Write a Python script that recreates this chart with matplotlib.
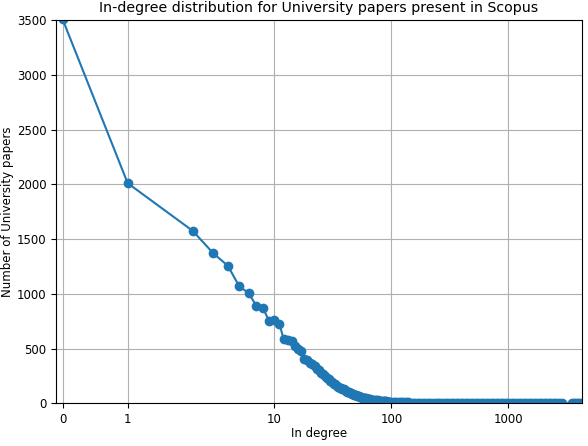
import matplotlib
matplotlib.use("Agg")
import matplotlib.pyplot as plt

# In-degree values (x) and number of papers with that in-degree (y)
degree_head = [0, 1, 2, 3, 4, 5, 6, 7, 8, 9, 10, 11, 12, 13, 14, 15, 16, 17, 18, 19, 20]
count_head = [3505, 2010, 1575, 1370, 1255, 1068, 1008, 890, 868, 750, 762, 727, 585, 578, 565,
              520, 495, 482, 405, 395, 372]

degree_mid = [21, 22, 23, 24, 25, 26, 27, 28, 29, 30, 31, 32, 33, 34, 35, 36, 37, 38, 39, 40,
              41, 42, 43, 44, 45, 46, 47, 48, 49, 50, 51, 52, 53, 54, 55, 56, 57, 58, 59, 60,
              62, 64, 66, 68, 70, 72, 74, 76, 78, 80, 82, 84, 86, 88, 90, 92, 94, 96, 98, 100]
count_mid = [355, 338, 316, 302, 280, 268, 246, 233, 220, 203, 194, 178, 172, 158, 153, 144, 141, 133, 129, 118,
             116, 106, 103, 95, 93, 86, 85, 78, 79, 72, 71, 66, 66, 58, 59, 53, 53, 48, 49, 44,
             42, 39, 38, 34, 33, 30, 29, 26, 25, 22, 22, 19, 20, 17, 17, 15, 16, 13, 14, 12]

degree_tail = [105, 110, 115, 120, 126, 132, 138, 145, 152, 160, 168, 176, 185, 195, 205, 215,
               226, 238, 250, 262, 275, 290, 305, 320, 336, 353, 371, 390, 410, 431, 453, 476,
               500, 525, 552, 580, 610, 641, 673, 707, 743, 780, 820, 862, 905, 951, 1000,
               1050, 1100, 1160, 1220, 1280, 1350, 1420, 1490, 1570, 1650, 1730, 1820, 1910,
               2010, 2110, 2220, 2330, 2450, 2570, 2700, 2840, 3500, 3650, 3800, 3950, 4120]
count_tail = [11, 11, 10, 9, 9, 8, 8, 7, 7, 6, 6, 6, 5, 5, 5, 4,
              4, 4, 4, 3, 3, 3, 3, 3, 3, 2, 2, 2, 2, 2, 2, 2,
              2, 2, 2, 2, 2, 1, 2, 1, 1, 2, 1, 1, 1, 1, 2,
              1, 1, 1, 1, 1, 1, 1, 1, 1, 1, 1, 1, 1,
              1, 1, 1, 1, 1, 1, 1, 1, 1, 1, 1, 1, 1]

degrees = degree_head + degree_mid + degree_tail
counts = count_head + count_mid + count_tail

x_ticks = [0, 1, 10, 100, 1000]
x_tick_labels = ["0", "1", "10", "100", "1000"]
y_ticks = [0, 500, 1000, 1500, 2000, 2500, 3000, 3500]

fig = plt.figure(figsize=(5.88, 4.46), dpi=100)
ax = fig.add_axes([0.0952, 0.0957, 0.8941, 0.8595])

ax.plot(degrees, counts, color="#1f77b4", marker="o", markersize=6, linewidth=1.5)
ax.set_xscale("symlog", linthresh=2, linscale=1)
ax.set_xlim(-0.103, 4226)
ax.set_ylim(0, 3500)
ax.set_xticks(x_ticks)
ax.set_xticklabels(x_tick_labels)
ax.xaxis.set_minor_locator(matplotlib.ticker.NullLocator())
ax.set_yticks(y_ticks)
ax.grid(True, color="#b0b0b0", linewidth=0.8)
ax.tick_params(labelsize=8.5)

ax.set_title("In-degree distribution for University papers present in Scopus", fontsize=10.2)
ax.set_xlabel("In degree", fontsize=8.5, labelpad=0.5)
ax.set_ylabel("Number of University papers", fontsize=8.5, labelpad=2.2)

fig.savefig("out.png", dpi=100)
